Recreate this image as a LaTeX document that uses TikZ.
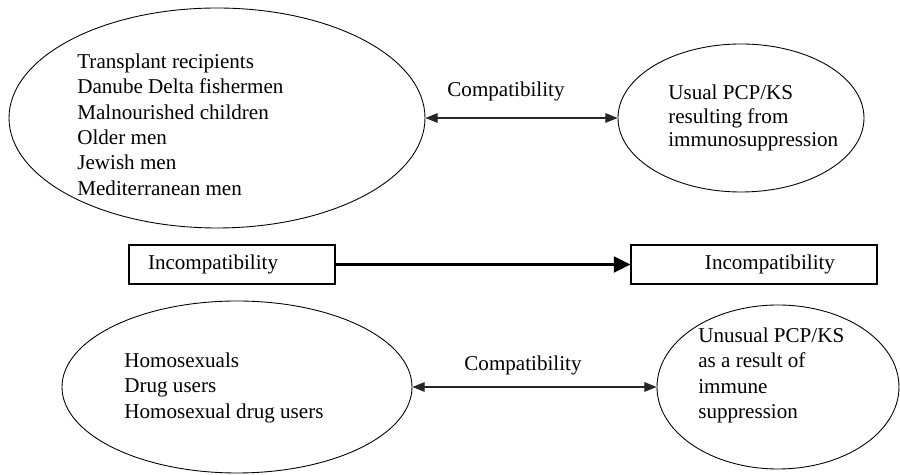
\documentclass[tikz,border=0pt]{standalone}
\usepackage{fontspec}
\setmainfont{Liberation Serif}
\usetikzlibrary{shapes.geometric,arrows.meta}

\begin{document}
\begin{tikzpicture}[font=\fontsize{12}{14.4}\selectfont,
  blob/.style={draw,ellipse,line width=0.5pt,inner sep=0pt},
  grouptext/.style={anchor=north west,align=left,inner sep=0pt},
  incbox/.style={draw,rectangle,line width=0.6pt,minimum height=0.78cm,inner ysep=0pt},
  compat/.style={{Triangle[length=7pt,width=5.5pt]}-{Triangle[length=7pt,width=5.5pt]},line width=0.6pt,black!85},
  incompat/.style={-{Triangle[length=9.5pt,width=9pt]},line width=1.6pt}]
\useasboundingbox (0,0) rectangle (18,9.5);

% upper row
\node[blob,minimum width=8.32cm,minimum height=4.4cm] (grpA) at (4.34,7.14) {};
\node[blob,minimum width=4.92cm,minimum height=2.96cm] (pcpA) at (14.82,7.14) {};
\node[grouptext] (grpAtext) at (1.54,8.43) {Transplant recipients\\Danube Delta fishermen\\Malnourished children\\Older men\\Jewish men\\Mediterranean men};
\node[grouptext,font=\fontsize{12}{13.2}\selectfont] (pcpAtext) at (13.36,7.80) {Usual PCP/KS\\resulting from\\immunosuppression};
\draw[compat] (grpA.east) -- (pcpA.west);
\node (compA) at (10.12,7.68) {Compatibility};

% middle row
\node[incbox,text width=3.36cm,inner xsep=0.38cm,align=left] (incA) at (4.64,4.21) {Incompatibility};
\node[incbox,text width=3.24cm,inner xsep=0.84cm,align=right] (incB) at (15.08,4.21) {Incompatibility};
\draw[incompat] (incA.east) -- (incB.west);

% lower row
\node[blob,minimum width=7.0cm,minimum height=3.44cm] (grpB) at (4.74,1.76) {};
\node[blob,minimum width=4.84cm,minimum height=3.28cm] (pcpB) at (15.56,1.76) {};
\node[grouptext] (grpBtext) at (2.48,2.45) {Homosexuals\\Drug users\\Homosexual drug users};
\node[grouptext] (pcpBtext) at (13.96,2.95) {Unusual PCP/KS\\as a result of\\immune\\suppression};
\draw[compat] (grpB.east) -- (pcpB.west);
\node (compB) at (10.46,2.2) {Compatibility};
\end{tikzpicture}
\end{document}
